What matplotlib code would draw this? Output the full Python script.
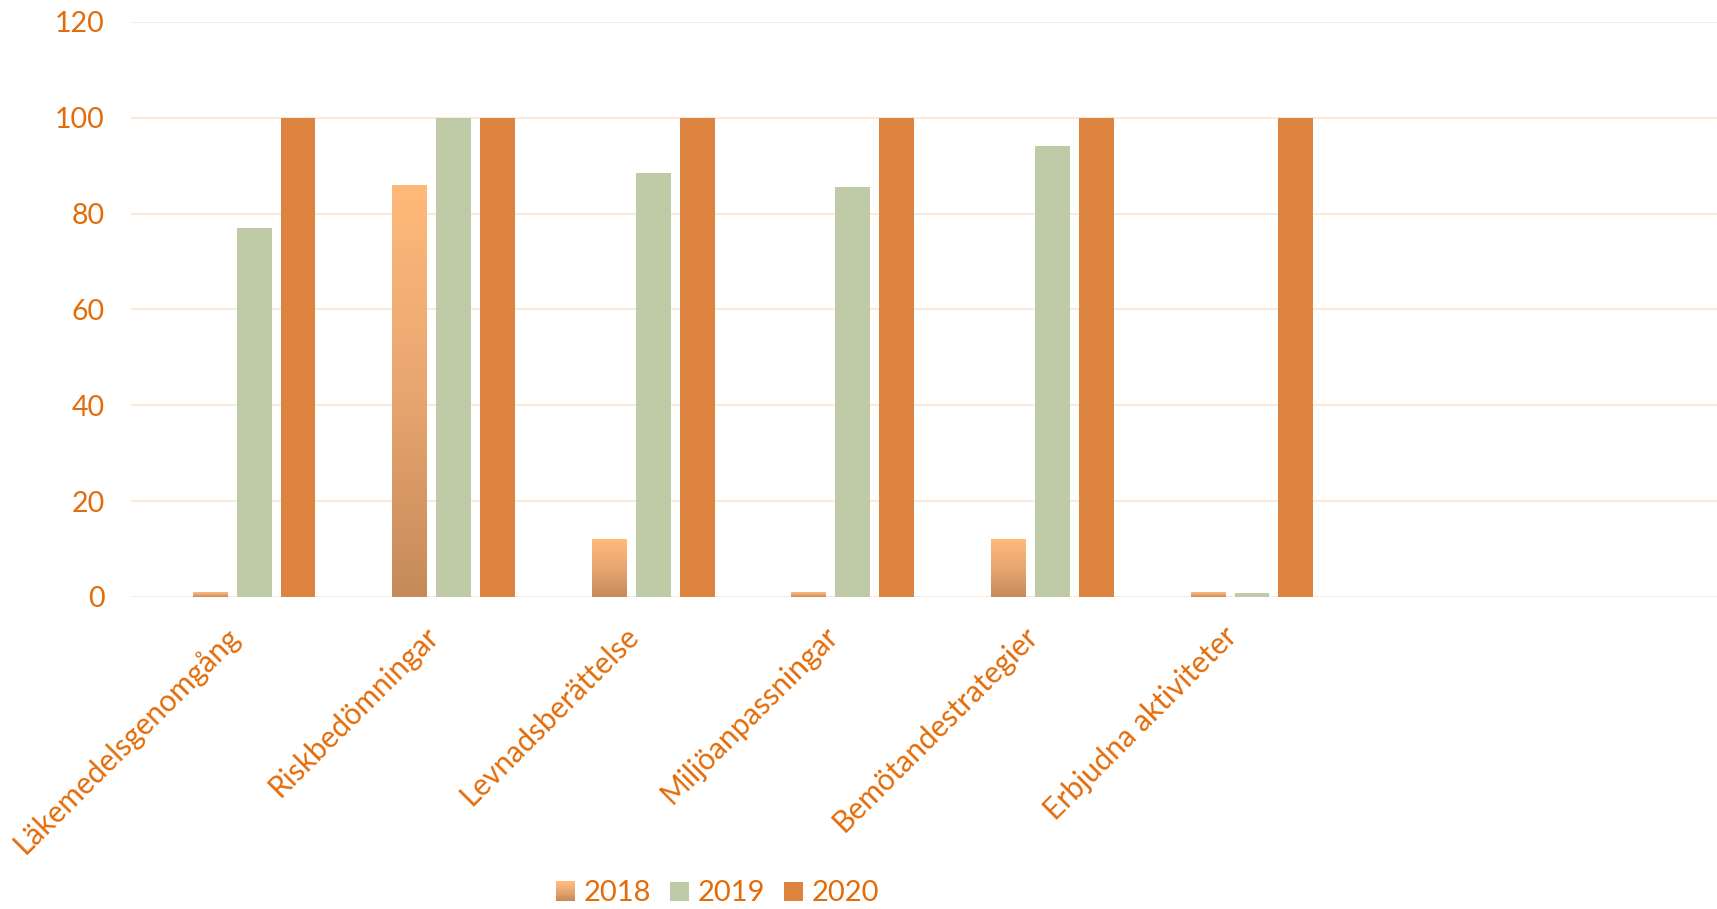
import numpy as np
import matplotlib
matplotlib.use("Agg")
import matplotlib.pyplot as plt
from matplotlib.colors import LinearSegmentedColormap
from matplotlib.patches import Rectangle
from matplotlib.legend_handler import HandlerBase
import matplotlib.patheffects as pe

categories = ["Läkemedelsgenomgång", "Riskbedömningar", "Levnadsberättelse",
              "Miljöanpassningar", "Bemötandestrategier", "Erbjudna aktiviteter"]
series_names = ["2018", "2019", "2020"]
values_2018 = [1, 86, 12, 1, 12, 1]
values_2019 = [77, 100, 88.5, 85.5, 94, 0.7]
values_2020 = [100, 100, 100, 100, 100, 100]
y_ticks = [0, 20, 40, 60, 80, 100, 120]

TEXT = "#E36C0A"
GRID = "#FCE9DA"
C2019 = "#BFCBA6"
C2020 = "#DC833F"
grad = LinearSegmentedColormap.from_list("g2018", ["#C68A5A", "#E8A670", "#FFBA7A"])

plt.rcParams['font.family'] = ['Lato', 'DejaVu Sans']

fig = plt.figure(figsize=(17.17, 9.09), dpi=100)
ax = fig.add_axes([0.0765, 0.3434, 0.9235, 0.6325])

x = np.arange(len(categories))
w = 0.175
off = 0.22

bars18 = ax.bar(x - off, values_2018, w, facecolor="none", edgecolor="none", zorder=2)
ax.bar(x, values_2019, w, color=C2019, zorder=2)
ax.bar(x + off, values_2020, w, color=C2020, zorder=2)

# gradient fill for the 2018 bars
gradient = np.linspace(0, 1, 256).reshape(-1, 1)
for b in bars18:
    x0, y0 = b.get_x(), b.get_y()
    bw, bh = b.get_width(), b.get_height()
    b.set_path_effects([pe.SimplePatchShadow(offset=(0, -3), shadow_rgbFace="#9a9a9a", alpha=0.35)])
    b.set_facecolor((1, 1, 1, 0.001))
    im = ax.imshow(gradient, extent=[x0, x0 + bw, y0, y0 + bh], origin="lower",
                   cmap=grad, aspect="auto", zorder=3)
    im.set_clip_path(b)

ax.set_xlim(-0.615, 7.33)
ax.set_ylim(0, 120)
ax.set_yticks(y_ticks)
ax.set_yticklabels([str(t) for t in y_ticks], fontsize=20.5)
ax.set_xticks(x)
ax.set_xticklabels([])
for xi, cat in zip(x, categories):
    ax.annotate(cat, xy=(xi, 0), xycoords=ax.get_xaxis_transform(),
                xytext=(-14, -25), textcoords="offset points",
                rotation=45, ha="right", va="center", rotation_mode="anchor",
                fontsize=21.5, color=TEXT, annotation_clip=False)
ax.tick_params(axis="both", length=0, colors=TEXT)
ax.tick_params(axis="y", pad=19)
ax.yaxis.grid(True, color=GRID, linewidth=1.5)
ax.set_axisbelow(True)
for s in ax.spines.values():
    s.set_visible(False)
ax.axhline(0, color=GRID, linewidth=2, zorder=1)


class GradientHandler(HandlerBase):
    def create_artists(self, legend, orig, xd, yd, width, height, fontsize, trans):
        arts = []
        n = 12
        side = height
        x0 = xd + (width - side) / 2
        for i in range(n):
            arts.append(Rectangle((x0, yd + i * side / n), side, side / n + 0.2,
                                  facecolor=grad(i / (n - 1)), edgecolor="none", transform=trans))
        return arts


class SquareHandler(HandlerBase):
    def create_artists(self, legend, orig, xd, yd, width, height, fontsize, trans):
        side = height
        x0 = xd + (width - side) / 2
        return [Rectangle((x0, yd), side, side, facecolor=orig.get_facecolor(),
                          edgecolor="none", transform=trans)]


h18 = Rectangle((0, 0), 1, 1, facecolor="#E8A670")
h19 = Rectangle((0, 0), 1, 1, facecolor=C2019)
h20 = Rectangle((0, 0), 1, 1, facecolor=C2020)
leg = fig.legend([h18, h19, h20], series_names, loc="center", bbox_to_anchor=(0.418, 0.018),
                 ncol=3, frameon=False, fontsize=21, handlelength=0.65, handleheight=0.65,
                 handletextpad=0.3, columnspacing=0.65,
                 handler_map={h18: GradientHandler(), h19: SquareHandler(), h20: SquareHandler()})
for t in leg.get_texts():
    t.set_color(TEXT)

fig.savefig("out.png", dpi=100)
